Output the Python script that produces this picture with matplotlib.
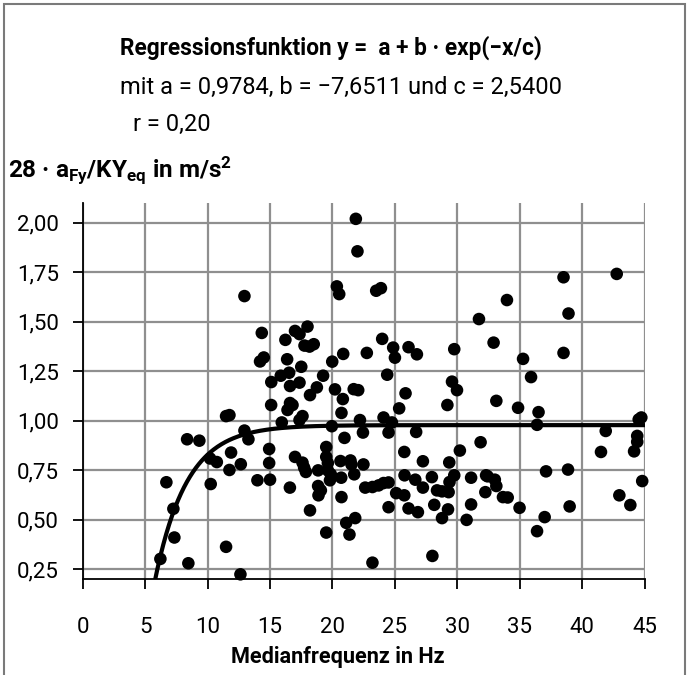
import matplotlib
matplotlib.use("Agg")
import matplotlib.pyplot as plt
import matplotlib.patches as mpatches
import numpy as np

plt.rcParams['font.family'] = ['Roboto', 'DejaVu Sans']
plt.rcParams['mathtext.default'] = 'regular'

# Regression parameters
a_param, b_param, c_param = 0.9784, -7.6511, 2.5400

# Scatter data (Medianfrequenz in Hz, 28*aFy/KYeq in m/s^2)
freq = [12.95, 14.34, 14.2, 14.5, 15.1, 21.87, 22.0, 20.35, 20.54, 23.5, 23.88,
        18.0, 17.0, 17.36, 16.23, 17.76, 18.16, 18.5, 16.37, 17.5, 19.98, 20.86,
        22.75, 23.98, 24.86, 25.0, 26.09, 26.76, 29.75, 24.38, 19.25, 15.86, 16.53,
        16.6, 17.36, 18.75, 18.2, 20.2, 21.7, 22.06, 25.85, 29.57, 29.97, 42.76,
        38.5, 33.97, 38.9, 31.73, 32.9, 38.5, 35.26, 35.9,
        15.09, 16.4, 16.6, 16.8, 11.48, 11.75, 8.36, 9.34, 12.95, 13.27, 11.88,
        10.2, 10.74, 12.66, 11.75, 14.93, 14.93, 15.0, 13.99, 6.7, 10.25, 7.26,
        7.34, 11.48, 6.22, 8.46, 12.63, 20.83, 20.72, 17.6, 17.36, 15.94, 19.95,
        22.2, 24.09, 24.76, 25.34, 29.2, 22.44, 24.49, 26.7, 20.96, 19.5, 19.5,
        17.0, 17.6, 17.73, 17.87, 18.85, 19.63, 19.63, 19.87, 19.8, 20.64, 21.44,
        21.52, 22.48, 21.74, 20.7, 16.59, 18.85, 19.07, 18.88, 20.72, 18.2, 19.5,
        21.1, 21.82, 21.36, 23.2, 22.62, 23.2, 23.69, 24.09, 24.49, 25.75, 27.24,
        29.35, 30.2, 25.77, 26.63, 25.1, 25.75, 27.24, 27.96, 28.37, 28.77, 29.3,
        29.37, 29.75, 24.49, 26.09, 26.84, 28.15, 29.25, 28.77, 28.0, 33.12, 34.86,
        36.5, 36.38, 44.73, 44.52, 41.88, 44.4, 44.4, 44.15, 41.5, 31.86, 31.1,
        32.3, 32.42, 33.0, 33.12, 37.1, 38.86, 44.8, 32.24, 33.65, 34.03, 31.1,
        34.98, 38.99, 42.97, 43.85, 30.74, 36.99, 36.38]
accel = [1.63, 1.444, 1.30, 1.32, 1.196, 2.02, 1.856, 1.679, 1.64, 1.657, 1.67,
         1.476, 1.454, 1.438, 1.409, 1.38, 1.375, 1.387, 1.311, 1.273, 1.299, 1.338,
         1.343, 1.414, 1.37, 1.319, 1.372, 1.336, 1.362, 1.233, 1.228, 1.228, 1.243,
         1.176, 1.193, 1.169, 1.13, 1.159, 1.16, 1.155, 1.139, 1.198, 1.155, 1.742,
         1.725, 1.61, 1.542, 1.514, 1.395, 1.343, 1.313, 1.221,
         1.08, 1.055, 1.09, 1.08, 1.024, 1.029, 0.907, 0.90, 0.951, 0.907, 0.84,
         0.81, 0.792, 0.781, 0.752, 0.858, 0.787, 0.703, 0.70, 0.69, 0.681, 0.556,
         0.411, 0.364, 0.303, 0.281, 0.225, 1.11, 1.04, 1.024, 1.004, 0.992, 0.973,
         1.004, 1.017, 0.992, 1.063, 1.08, 0.941, 0.941, 0.944, 0.914, 0.868, 0.818,
         0.818, 0.789, 0.764, 0.742, 0.75, 0.787, 0.75, 0.73, 0.70, 0.797, 0.80,
         0.78, 0.78, 0.73, 0.713, 0.663, 0.671, 0.649, 0.624, 0.615, 0.548, 0.436,
         0.485, 0.509, 0.426, 0.284, 0.663, 0.666, 0.674, 0.686, 0.689, 0.843, 0.796,
         0.79, 0.85, 0.725, 0.703, 0.635, 0.624, 0.663, 0.716, 0.649, 0.644, 0.64,
         0.691, 0.725, 0.564, 0.558, 0.539, 0.576, 0.553, 0.509, 0.318, 1.101, 1.066,
         1.044, 0.98, 1.017, 1.007, 0.949, 0.924, 0.894, 0.846, 0.843, 0.892, 0.713,
         0.725, 0.72, 0.703, 0.671, 0.745, 0.754, 0.696, 0.64, 0.615, 0.613, 0.578,
         0.561, 0.568, 0.624, 0.575, 0.50, 0.514, 0.443]

x_ticks = [0, 5, 10, 15, 20, 25, 30, 35, 40, 45]
y_ticks = [0.25, 0.50, 0.75, 1.00, 1.25, 1.50, 1.75, 2.00]
y_ticklabels = ['0,25', '0,50', '0,75', '1,00', '1,25', '1,50', '1,75', '2,00']

W, H = 689, 675
fig = plt.figure(figsize=(W / 100, H / 100), dpi=100)

def fx(px):
    return px / W

def fy(py):
    return 1 - py / H

ax = fig.add_axes([fx(82.7), fy(579.3), fx(644.7) - fx(82.7), fy(203) - fy(579.3)])
ax.set_xlim(0, 45)
ax.set_ylim(0.2, 2.1)
ax.set_xticks(x_ticks)
ax.set_xticklabels([str(t) for t in x_ticks])
ax.set_yticks(y_ticks)
ax.set_yticklabels(y_ticklabels)
ax.grid(True, color='#8f8f8f', linewidth=1.6)
ax.set_axisbelow(True)
for s in ['top', 'right']:
    ax.spines[s].set_visible(False)
for s in ['left', 'bottom']:
    ax.spines[s].set_linewidth(1.3)
    ax.spines[s].set_color('black')
    ax.spines[s].set_zorder(3)
ax.tick_params(axis='both', direction='out', length=7, width=1.3, labelsize=16,
               colors='black')
ax.tick_params(axis='x', pad=20)
ax.tick_params(axis='y', pad=10)

ax.scatter(freq, accel, s=82, color='black', edgecolors='none', zorder=4,
           clip_on=False)

xc = np.linspace(5.5, 45, 500)
yc = a_param + b_param * np.exp(-xc / c_param)
ax.plot(xc, yc, color='black', linewidth=3.0, zorder=5)

fig.text(fx(120), fy(48), 'Regressionsfunktion y =  a + b · exp(−x/c)',
         fontsize=16.3, fontweight='bold', va='center', ha='left')
fig.text(fx(120), fy(87), 'mit a = 0,9784, b = −7,6511 und c = 2,5400',
         fontsize=17, va='center', ha='left')
fig.text(fx(133), fy(124), 'r = 0,20', fontsize=17, va='center', ha='left')
fig.text(fx(8), fy(170), r'28 · a$_{Fy}$/KY$_{eq}$ in m/s$^{2}$',
         fontsize=17.5, fontweight='bold', va='center', ha='left')
fig.text(fx(338), fy(657), 'Medianfrequenz in Hz', fontsize=15.6,
         fontweight='bold', va='center', ha='center')

frame = mpatches.Rectangle((fx(4), -0.05), fx(685) - fx(4), fy(4) + 0.05,
                           transform=fig.transFigure, fill=False,
                           edgecolor='#7a7a7a', linewidth=1.5)
fig.patches.append(frame)

fig.savefig('out.png', dpi=100)
